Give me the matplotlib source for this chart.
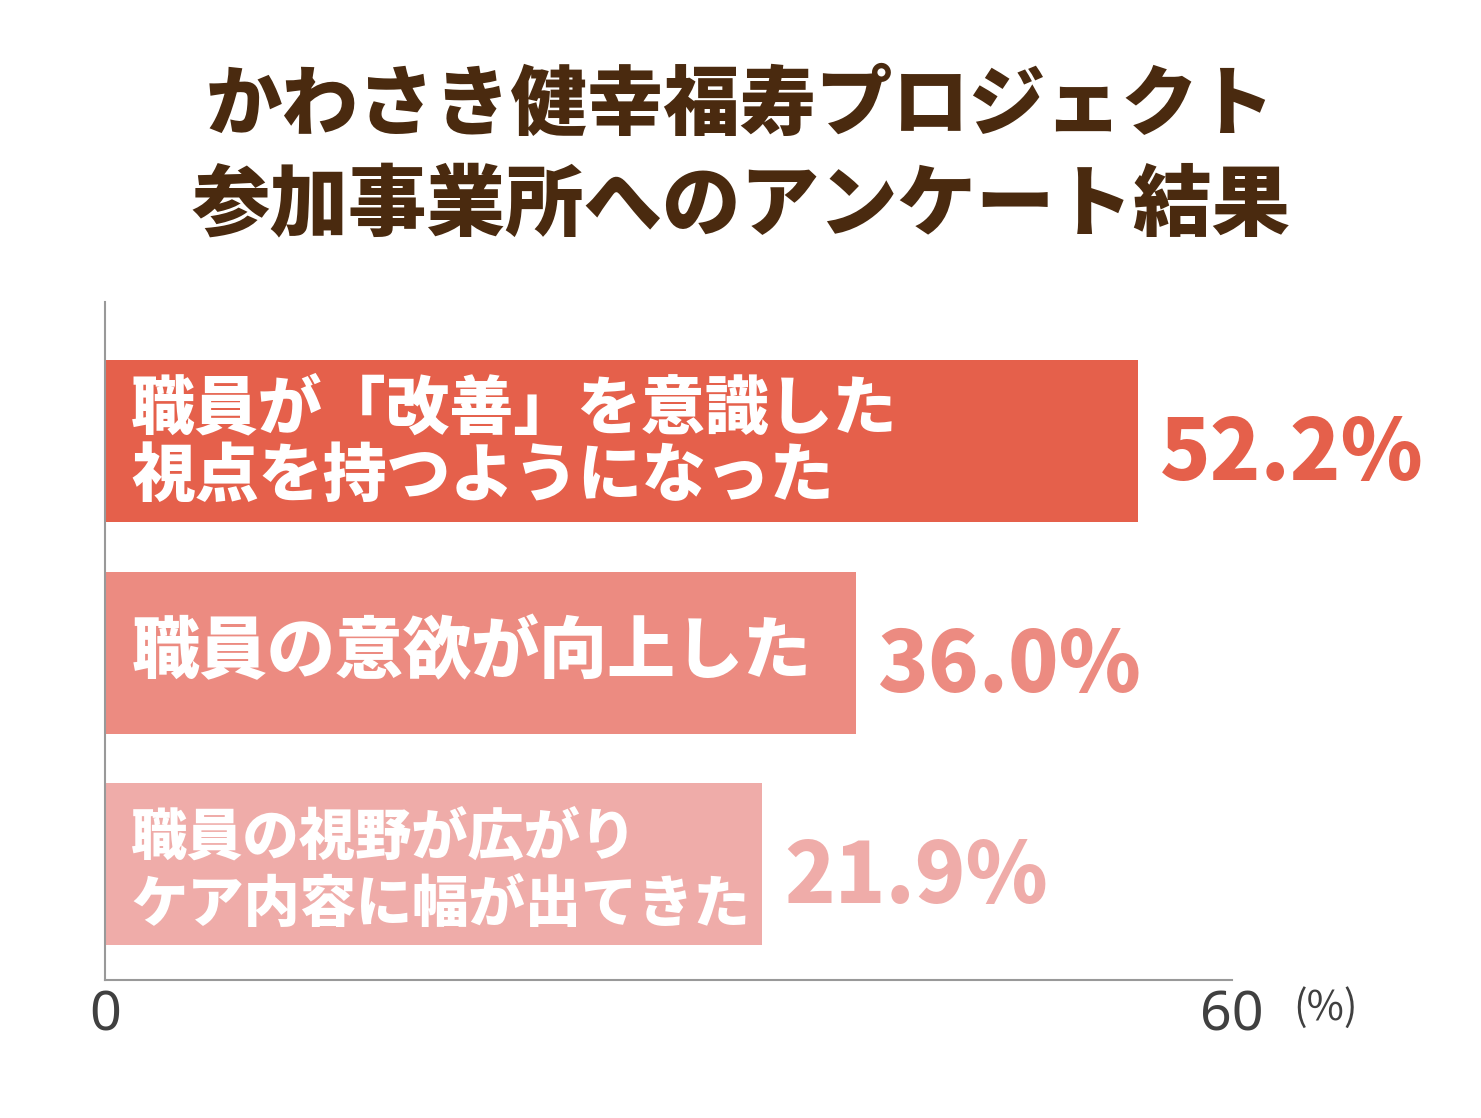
import matplotlib
matplotlib.use("Agg")
import matplotlib.pyplot as plt

plt.rcParams['font.family'] = ['Noto Sans CJK JP', 'DejaVu Sans']

# ---- data ----
title_lines = ["かわさき健幸福寿プロジェクト", "参加事業所へのアンケート結果"]
categories = ["職員が「改善」を意識した\n視点を持つようになった",
              "職員の意欲が向上した",
              "職員の視野が広がり\nケア内容に幅が出てきた"]
percent_values = [52.2, 36.0, 21.9]          # printed values
bar_lengths = [55.0, 40.0, 35.0]             # drawn bar lengths (axis 0-60)
bar_colors = ["#E5604B", "#EC8B81", "#EFACA9"]
x_ticks = [0, 60]
x_unit = "(%)"

fig = plt.figure(figsize=(14.81, 11.18), dpi=100)
ax = fig.add_axes([105/1481, 1-980/1118, (1232-105)/1481, (980-302)/1118])

n = len(categories)
ypos = [n - 1 - i for i in range(n)]
ax.barh(ypos, bar_lengths, height=0.766, color=bar_colors, zorder=2)

ax.set_xlim(0, 60)
ax.set_ylim(-0.548, 2.657)

label_sizes = [46, 49, 40.5]
label_spacing = [1.08, 1.0, 1.24]
label_shift = [-0.01, 0.0, -0.035]
for y, cat, L, v, c, fs, ls, sh in zip(ypos, categories, bar_lengths, percent_values,
                                       bar_colors, label_sizes, label_spacing, label_shift):
    ax.text(1.4, y + sh, cat, color="white", fontsize=fs, fontweight="heavy",
            va="center", ha="left", linespacing=ls, zorder=3)
    ax.text(L + 1.15, y - 0.065, f"{v:.1f}%", color=c, fontsize=60, fontweight="heavy",
            va="center", ha="left", zorder=3)

for s in ["top", "right"]:
    ax.spines[s].set_visible(False)
for s in ["left", "bottom"]:
    ax.spines[s].set_color("#999999")
    ax.spines[s].set_linewidth(1.5)
ax.set_yticks([])
ax.set_xticks(x_ticks)
ax.set_xticklabels([str(t) for t in x_ticks], fontsize=40, color="#404040")
ax.tick_params(axis="x", length=0, pad=6)
for lbl in ax.get_xticklabels():
    lbl.set_fontfamily(['Noto Sans', 'DejaVu Sans'])

ax.text(1.054, -0.0413, x_unit, transform=ax.transAxes, fontsize=29, color="#404040",
        ha="left", va="center")

fig.text(0.5, 1-106/1118, title_lines[0], ha="center", va="center",
         fontsize=55, fontweight="heavy", color="#4A2A0F")
fig.text(0.5, 1-206/1118, title_lines[1], ha="center", va="center",
         fontsize=56.5, fontweight="heavy", color="#4A2A0F")

fig.savefig("out.png", dpi=100, facecolor="white")
